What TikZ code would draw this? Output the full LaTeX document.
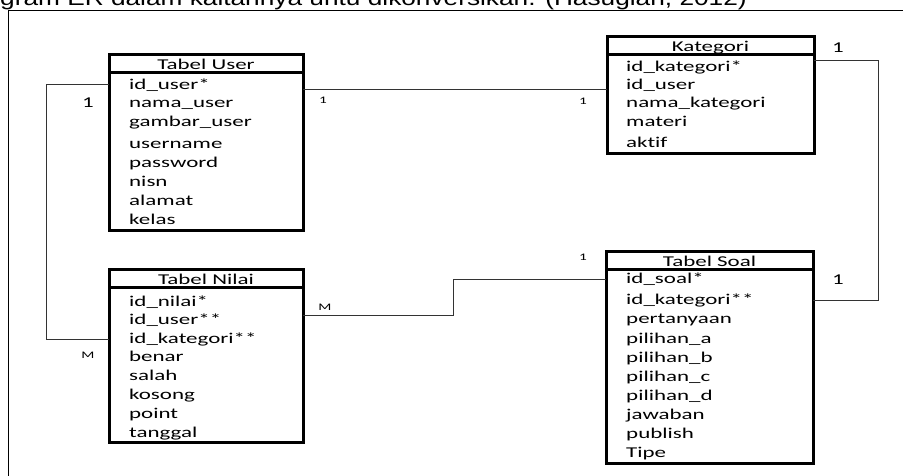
\documentclass[tikz,border=0pt]{standalone}
\usepackage{fontspec}
\setmainfont{Carlito}[FakeStretch=1.53, Ligatures=NoCommon]
\newfontfamily\judulfont{Liberation Sans}[FakeStretch=1.25]
\usetikzlibrary{positioning}

\begin{document}
\begin{tikzpicture} [
	x=1pt, y=-1pt, % one unit is one pixel of the screenshot, y runs down
	kepala/.style={draw, line width=3pt, inner sep=0pt, outer sep=0pt, anchor=north west, minimum width=#1, text height=15.5pt, text depth=3pt, font=\fontsize{15}{18}\selectfont}, % title row of a table
	badan/.style={draw, line width=3pt, inner sep=0pt, outer sep=0pt, minimum width=#1}, % box round the fields
	baris/.style={anchor=base west, inner sep=0pt, font=\fontsize{15}{18}\selectfont}, % one field
	kecil/.style={font=\fontsize{10}{12}\selectfont}, % small cardinality
	besar/.style={font=\fontsize{15}{18}\selectfont}, % big cardinality
	hubung/.style={line width=1pt, black!80}, % relation lines
	]
	\useasboundingbox (0,0) rectangle (903,475);
	\node[anchor=base west, inner sep=0pt, font=\judulfont\fontsize{21}{24}\selectfont] (judul) at (0,5.5) {gram ER dalam kaitannya untu dikonversikan. (Hasugian, 2012)};
	\draw[line width=1pt] (8,480) |- (910,10.5);

	% tables
	\node[kepala=194] (user) at (109,54) {Tabel User};
	\node[badan=194, minimum height=157.5, below=0pt of user] (user-b) {};
	\node[kepala=207] (kat) at (607,36) {Kategori};
	\node[badan=207, minimum height=98.5, below=0pt of kat] (kat-b) {};
	\node[kepala=194] (nilai) at (109,269) {Tabel Nilai};
	\node[badan=194, minimum height=154.5, below=0pt of nilai] (nilai-b) {};
	\node[kepala=207] (soal) at (606,251) {Tabel Soal};
	\node[badan=207, minimum height=193.5, below=0pt of soal] (soal-b) {};

	% fields
	\foreach \nm/\isi/\y in {u1/id\_user*/89, u2/nama\_user/107, u3/gambar\_user/126, u4/username/148.5, u5/password/167.5, u6/nisn/186.5, u7/alamat/205.5, u8/kelas/224.5}
		\node[baris] (\nm) at (129,\y) {\isi};
	\foreach \nm/\isi/\y in {k1/id\_kategori*/71, k2/id\_user/89.5, k3/nama\_kategori/107.5, k4/materi/126, k5/aktif/147.5}
		\node[baris] (\nm) at (626,\y) {\isi};
	\foreach \nm/\isi/\y in {n1/id\_nilai*/306, n2/id\_user**/324.3, n3/id\_kategori**/343.3, n4/benar/361.7, n5/salah/380, n6/kosong/399.3, n7/point/418.3, n8/tanggal/437.3}
		\node[baris] (\nm) at (129,\y) {\isi};
	\foreach \nm/\isi/\y in {s1/id\_soal*/283.7, s2/id\_kategori**/304.3, s3/pertanyaan/323.3, s4/pilihan\_a/343, s5/pilihan\_b/362, s6/pilihan\_c/381, s7/pilihan\_d/400, s8/jawaban/419.3, s9/publish/438, s10/Tipe/457.3}
		\node[baris] (\nm) at (626,\y) {\isi};

	% cardinalities
	\node[besar] (c1) at (88,103) {1};
	\node[kecil] (c2) at (323,100) {1};
	\node[kecil] (c3) at (583,101) {1};
	\node[kecil] (c4) at (88,355) {M};
	\node[kecil] (c5) at (325,307) {M};
	\node[kecil] (c6) at (583,257) {1};
	\node[besar] (c7) at (838,48) {1};
	\node[besar] (c8) at (838,280) {1};

	% relations
	\draw[hubung] (u1.base -| user-b.east) -- (u1.base -| kat-b.west);
	\draw[hubung] (u1 -| user-b.west) -- ++(-63,0) |- (n3 -| nilai-b.west);
	\draw[hubung] ([yshift=4pt]n2.center -| nilai-b.east) -- ++(150,0) |- (s1 -| soal-b.west);
	\draw[hubung] (k1.north -| kat-b.east) -- ++(64,0) |- (s2 -| soal-b.east);
\end{tikzpicture}
\end{document}
